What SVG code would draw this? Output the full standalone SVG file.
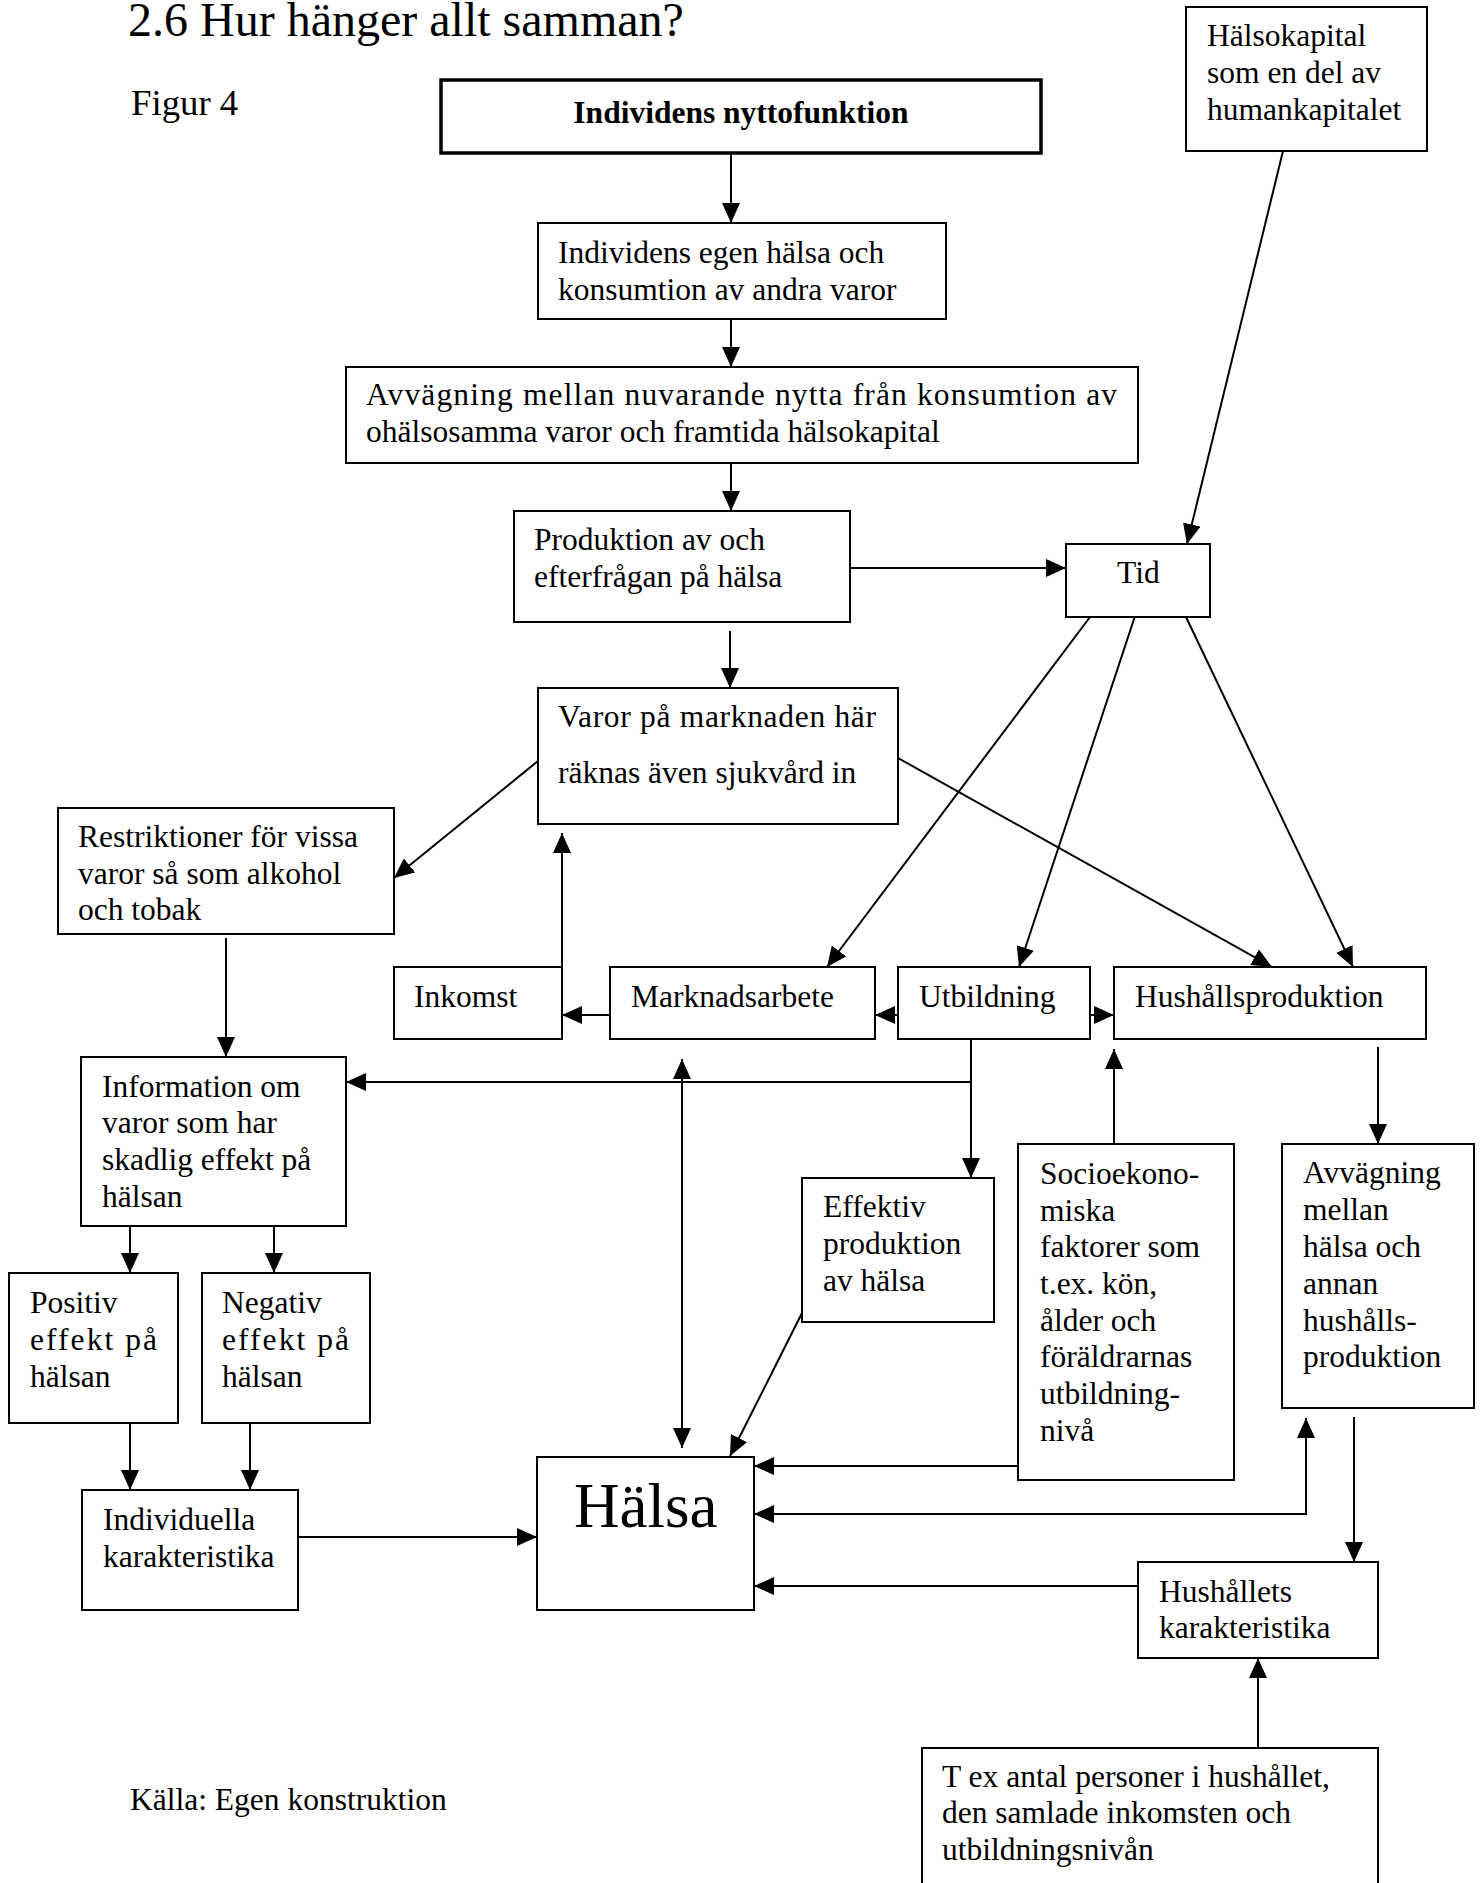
<svg xmlns="http://www.w3.org/2000/svg" width="1482" height="1883" viewBox="0 0 1482 1883">
<style>
text{font-family:"Liberation Serif","Times New Roman",serif;font-size:31.5px;fill:#000}
.box{fill:#fff;stroke:#000;stroke-width:2}
.main{fill:#fff;stroke:#000;stroke-width:3.5}
.c{fill:none;stroke:#000;stroke-width:2;marker-end:url(#ah)}
.d{fill:none;stroke:#000;stroke-width:2;marker-start:url(#ah);marker-end:url(#ah)}
.l{fill:none;stroke:#000;stroke-width:2}
</style>
<defs>
<marker id="ah" viewBox="0 0 20 18" refX="20" refY="9" markerWidth="20" markerHeight="18" orient="auto-start-reverse" markerUnits="userSpaceOnUse">
<path d="M0,0 L20,9 L0,18 Z" fill="#000"/>
</marker>
</defs>
<rect width="1482" height="1883" fill="#fff"/>
<text x="128" y="36" style="font-size:48px">2.6 Hur hänger allt samman?</text>
<text x="131" y="115" style="font-size:36.75px">Figur 4</text>
<text x="130" y="1810">Källa: Egen konstruktion</text>

<g id="connectors">
<path class="c" d="M731,153 V223"/>
<path class="c" d="M731,319 V367"/>
<path class="c" d="M731,463 V511"/>
<path class="c" d="M850,568 H1066"/>
<path class="c" d="M1283,151 L1187,544"/>
<path class="c" d="M730,631 V688"/>
<path class="c" d="M1090,617 L827,967"/>
<path class="c" d="M1138,607 L1019,967"/>
<path class="c" d="M1186,617 L1353,967"/>
<path class="c" d="M898,758 L1272,967"/>
<path class="c" d="M538,761 L394,878"/>
<path class="c" d="M898,1015 H875"/>
<path class="c" d="M1090,1015 H1114"/>
<path class="c" d="M610,1015 H562"/>
<path class="c" d="M562,967 V833"/>
<path class="c" d="M226,938 V1057"/>
<path class="c" d="M971,1039 V1178"/>
<path class="c" d="M971,1082 H346"/>
<path class="d" d="M682,1059 V1448"/>
<path class="c" d="M130,1226 V1273"/>
<path class="c" d="M274,1226 V1273"/>
<path class="c" d="M130,1418 V1490"/>
<path class="c" d="M250,1418 V1490"/>
<path class="c" d="M298,1537 H537"/>
<path class="c" d="M802,1313 L730,1456"/>
<path class="c" d="M1114,1144 V1049"/>
<path class="c" d="M1378,1047 V1144"/>
<path class="c" d="M1018,1466 H754"/>
<path class="d" d="M1306,1418 V1514 H754"/>
<path class="c" d="M1354,1417 V1562"/>
<path class="c" d="M1138,1586 H754"/>
<path class="c" d="M1258,1748 V1658"/>
</g>

<g id="n-nytto">
<rect class="main" x="441" y="80" width="600" height="73"/>
<text x="741" y="123" text-anchor="middle" font-weight="bold">Individens nyttofunktion</text>
</g>
<g id="n-halsokapital">
<rect class="box" x="1186" y="7" width="241" height="144"/>
<text x="1207" y="46">Hälsokapital</text>
<text x="1207" y="83">som en del av</text>
<text x="1207" y="120">humankapitalet</text>
</g>
<g id="n-egen">
<rect class="box" x="538" y="223" width="408" height="96"/>
<text x="558" y="263">Individens egen hälsa och</text>
<text x="558" y="300">konsumtion av andra varor</text>
</g>
<g id="n-avvagning">
<rect class="box" x="346" y="367" width="792" height="96"/>
<text x="366" y="405" textLength="751" lengthAdjust="spacing">Avvägning mellan nuvarande nytta från konsumtion av</text>
<text x="366" y="442">ohälsosamma varor och framtida hälsokapital</text>
</g>
<g id="n-produktion">
<rect class="box" x="514" y="511" width="336" height="111"/>
<text x="534" y="550">Produktion av och</text>
<text x="534" y="587">efterfrågan på hälsa</text>
</g>
<g id="n-tid">
<rect class="box" x="1066" y="544" width="144" height="73"/>
<text x="1117" y="583">Tid</text>
</g>
<g id="n-varor">
<rect class="box" x="538" y="688" width="360" height="136"/>
<text x="558" y="727" textLength="318" lengthAdjust="spacing">Varor på marknaden här</text>
<text x="558" y="783">räknas även sjukvård in</text>
</g>
<g id="n-restriktioner">
<rect class="box" x="58" y="808" width="336" height="126"/>
<text x="78" y="847">Restriktioner för vissa</text>
<text x="78" y="884">varor så som alkohol</text>
<text x="78" y="920">och tobak</text>
</g>
<g id="n-inkomst">
<rect class="box" x="394" y="967" width="168" height="72"/>
<text x="414" y="1007">Inkomst</text>
</g>
<g id="n-marknadsarbete">
<rect class="box" x="610" y="967" width="265" height="72"/>
<text x="631" y="1007">Marknadsarbete</text>
</g>
<g id="n-utbildning">
<rect class="box" x="898" y="967" width="192" height="72"/>
<text x="919" y="1007">Utbildning</text>
</g>
<g id="n-hushallsproduktion">
<rect class="box" x="1114" y="967" width="312" height="72"/>
<text x="1135" y="1007">Hushållsproduktion</text>
</g>
<g id="n-information">
<rect class="box" x="81" y="1057" width="265" height="169"/>
<text x="102" y="1097">Information om</text>
<text x="102" y="1133">varor som har</text>
<text x="102" y="1170">skadlig effekt på</text>
<text x="102" y="1207">hälsan</text>
</g>
<g id="n-effektiv">
<rect class="box" x="802" y="1178" width="192" height="144"/>
<text x="823" y="1217">Effektiv</text>
<text x="823" y="1254">produktion</text>
<text x="823" y="1291">av hälsa</text>
</g>
<g id="n-socio">
<rect class="box" x="1018" y="1144" width="216" height="336"/>
<text x="1040" y="1184">Socioekono-</text>
<text x="1040" y="1221">miska</text>
<text x="1040" y="1257">faktorer som</text>
<text x="1040" y="1294">t.ex. kön,</text>
<text x="1040" y="1331">ålder och</text>
<text x="1040" y="1367">föräldrarnas</text>
<text x="1040" y="1404">utbildning-</text>
<text x="1040" y="1441">nivå</text>
</g>
<g id="n-avvagning-mellan">
<rect class="box" x="1282" y="1144" width="192" height="264"/>
<text x="1303" y="1183">Avvägning</text>
<text x="1303" y="1220">mellan</text>
<text x="1303" y="1257">hälsa och</text>
<text x="1303" y="1294">annan</text>
<text x="1303" y="1331">hushålls-</text>
<text x="1303" y="1367">produktion</text>
</g>
<g id="n-positiv">
<rect class="box" x="9" y="1273" width="169" height="150"/>
<text x="30" y="1313">Positiv</text>
<text x="30" y="1350" textLength="127" lengthAdjust="spacing">effekt på</text>
<text x="30" y="1387">hälsan</text>
</g>
<g id="n-negativ">
<rect class="box" x="202" y="1273" width="168" height="150"/>
<text x="222" y="1313">Negativ</text>
<text x="222" y="1350" textLength="127" lengthAdjust="spacing">effekt på</text>
<text x="222" y="1387">hälsan</text>
</g>
<g id="n-individuella">
<rect class="box" x="82" y="1490" width="216" height="120"/>
<text x="103" y="1530">Individuella</text>
<text x="103" y="1567">karakteristika</text>
</g>
<g id="n-halsa">
<rect class="box" x="537" y="1457" width="217" height="153"/>
<text x="574" y="1527" style="font-size:63px">Hälsa</text>
</g>
<g id="n-hushallets">
<rect class="box" x="1138" y="1562" width="240" height="96"/>
<text x="1159" y="1602">Hushållets</text>
<text x="1159" y="1638">karakteristika</text>
</g>
<g id="n-tex">
<rect class="box" x="922" y="1748" width="456" height="150"/>
<text x="942" y="1787">T ex antal personer i hushållet,</text>
<text x="942" y="1823">den samlade inkomsten och</text>
<text x="942" y="1860">utbildningsnivån</text>
</g>
</svg>
